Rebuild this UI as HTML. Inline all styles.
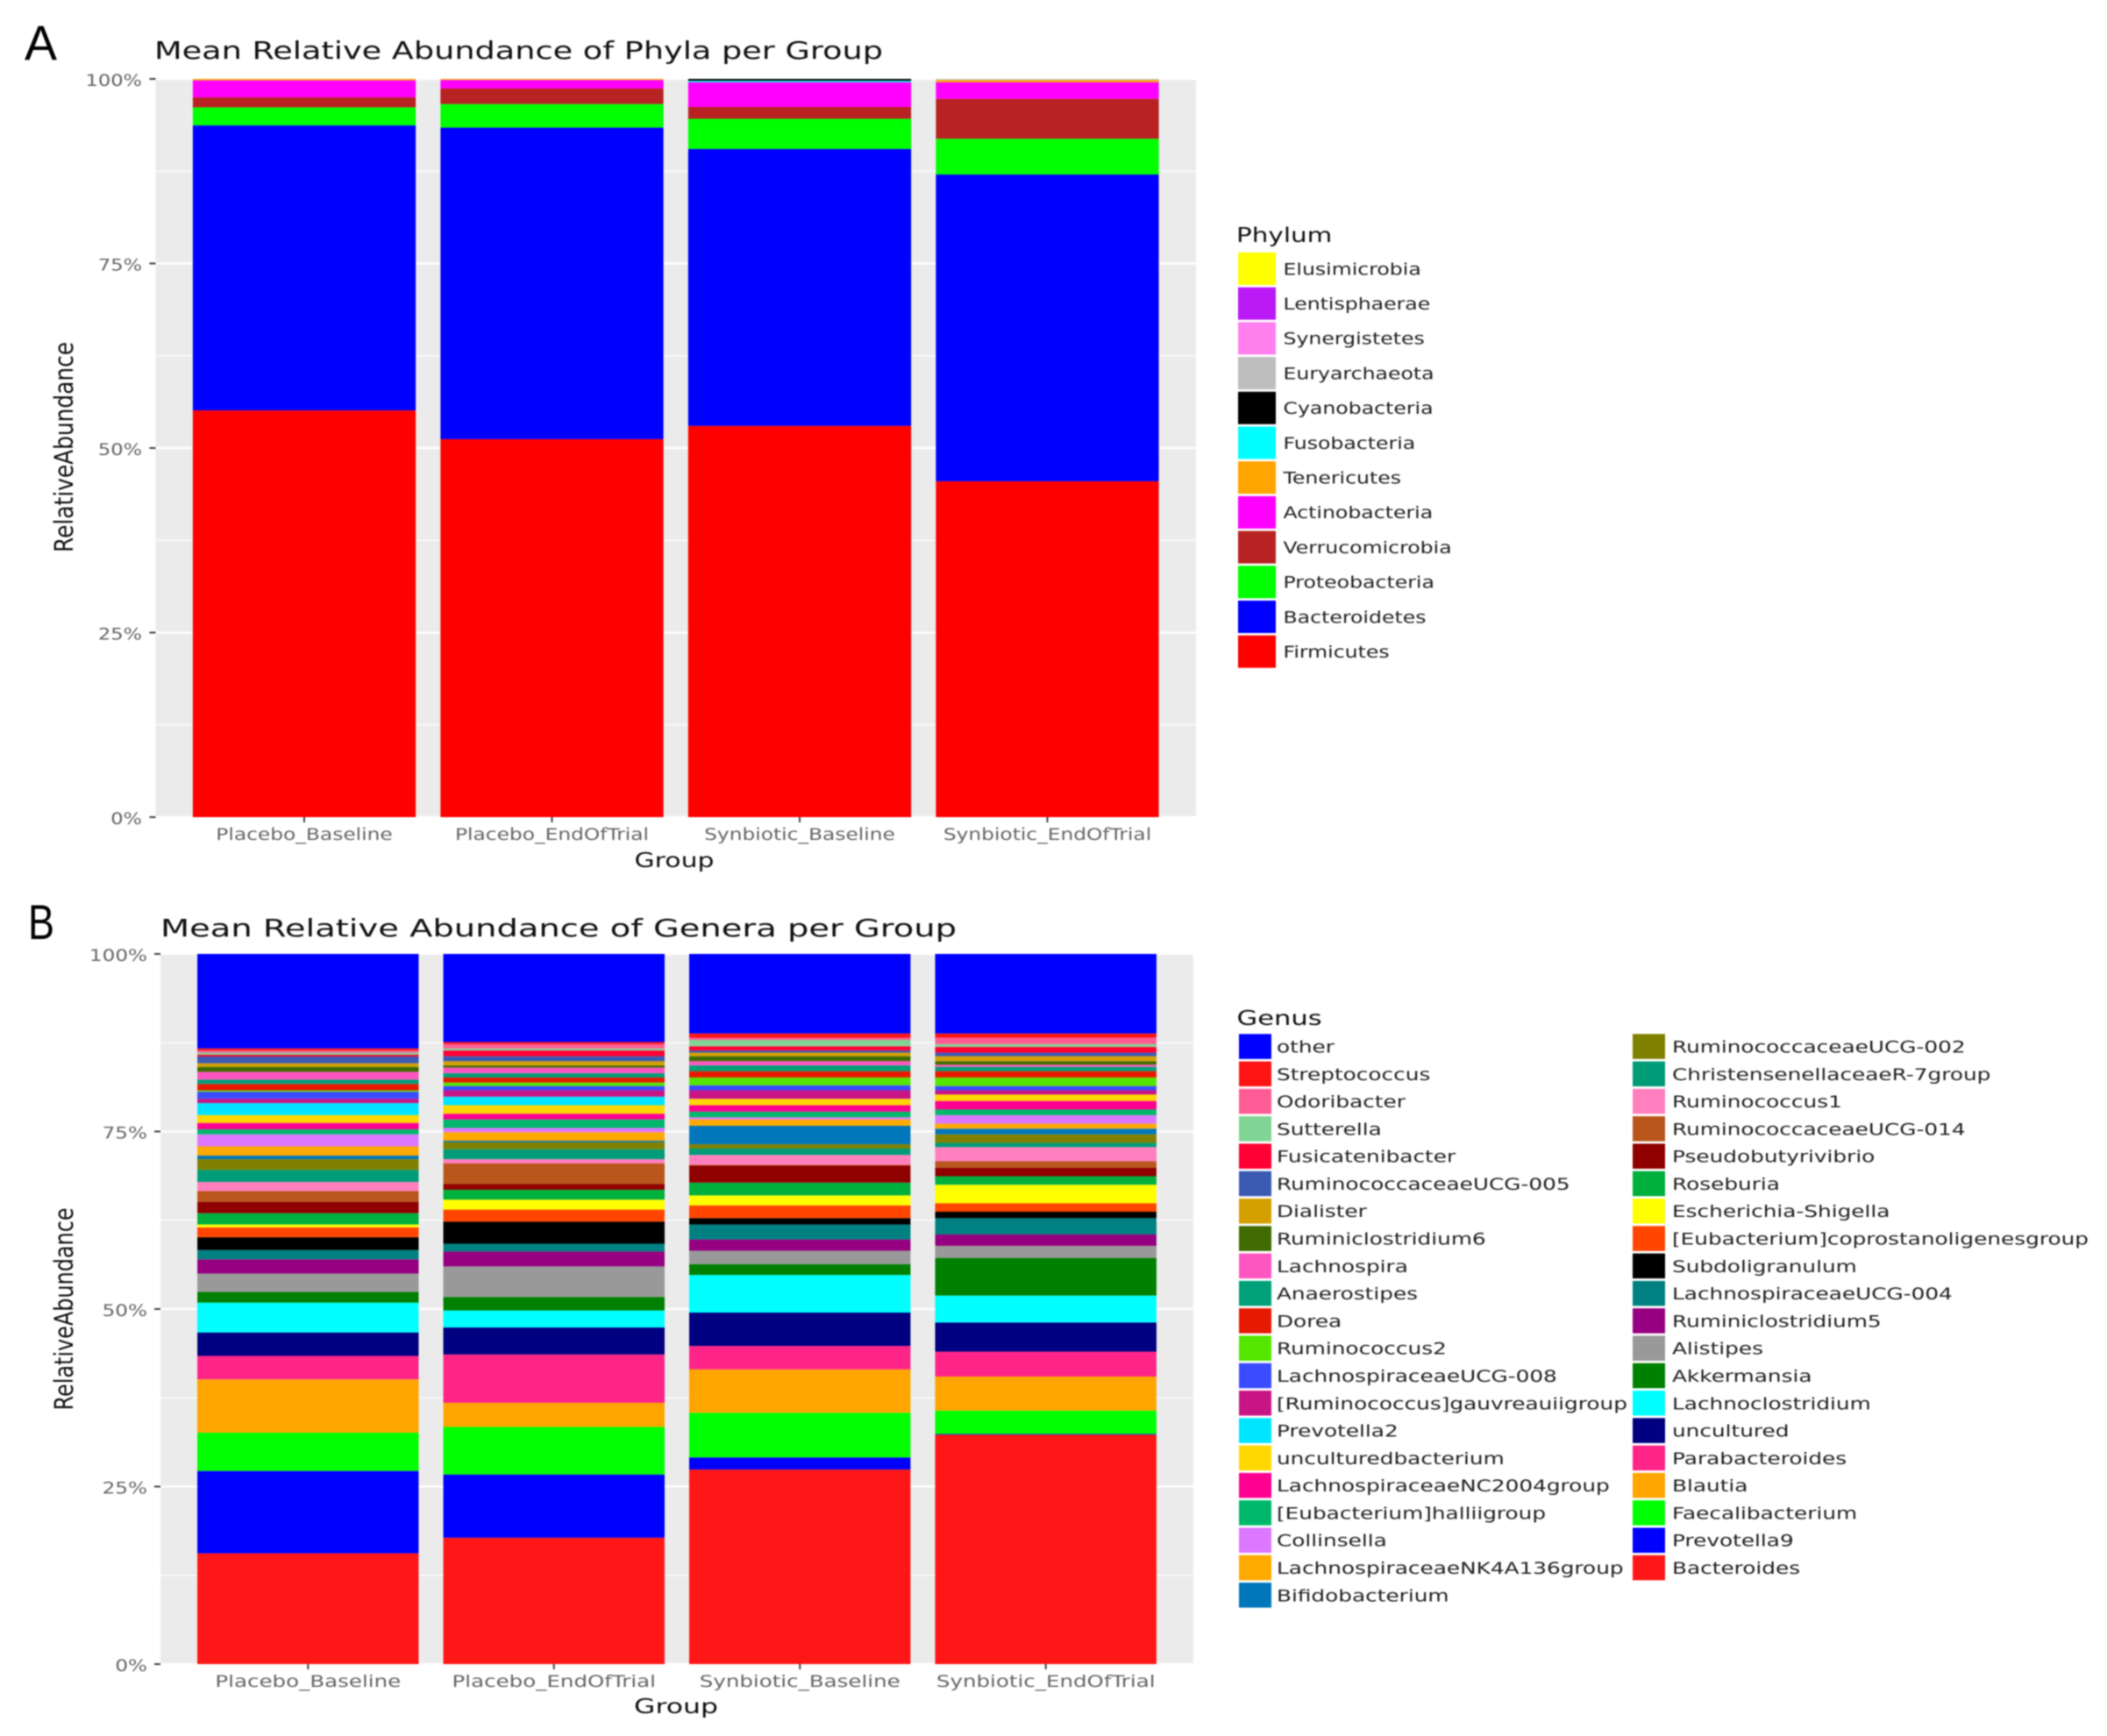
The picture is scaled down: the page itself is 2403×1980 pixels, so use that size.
<!DOCTYPE html>
<html lang="en">
<head>
<meta charset="utf-8">
<title>Mean Relative Abundance of Phyla and Genera per Group</title>
<style>
html,body{margin:0;padding:0;background:#fff;}
#figure{display:block;filter:blur(0.85px);font-family:"DejaVu Sans","Liberation Sans",sans-serif;}
</style>
</head>
<body>
<svg id="figure" xmlns="http://www.w3.org/2000/svg" width="2403" height="1980" viewBox="0 0 2403 1980">
<rect x="0" y="0" width="2403" height="1980" fill="#fff"/>
<g id="panel-a"></g>
<g id="panel-b"></g>
</svg>
<script>
// Shared chart data
const groups = ["Placebo_Baseline", "Placebo_EndOfTrial", "Synbiotic_Baseline", "Synbiotic_EndOfTrial"];
const tickValues = [0, 25, 50, 75, 100];
const minorTickValues = [12.5, 37.5, 62.5, 87.5];
const tickLabels = ["0%", "25%", "50%", "75%", "100%"];

// Phylum data, listed bottom of stack to top
const phyla = ["Firmicutes", "Bacteroidetes", "Proteobacteria", "Verrucomicrobia", "Actinobacteria", "Tenericutes", "Fusobacteria", "Cyanobacteria", "Euryarchaeota", "Synergistetes", "Lentisphaerae", "Elusimicrobia"];
const phylumColors = ["#ff0000", "#0000ff", "#00ff00", "#b82222", "#ff00ff", "#ffa500", "#00ffff", "#000000", "#bebebe", "#ff80ee", "#bb19f5", "#ffff00"];
const phylumPlaceboBaseline = [55.1, 38.6, 2.45, 1.35, 2.3, 0.2, 0, 0, 0, 0, 0, 0];
const phylumPlaceboEnd = [51.2, 42.2, 3.2, 2.1, 1.15, 0.15, 0, 0, 0, 0, 0, 0];
const phylumSynbioticBaseline = [53.0, 37.5, 4.1, 1.6, 3.35, 0, 0.2, 0.25, 0, 0, 0, 0];
const phylumSynbioticEnd = [45.5, 41.55, 4.85, 5.4, 2.25, 0.3, 0, 0, 0.15, 0, 0, 0];

// Genus data, listed bottom of stack to top
const genera = ["Bacteroides", "Prevotella9", "Faecalibacterium", "Blautia", "Parabacteroides", "uncultured", "Lachnoclostridium", "Akkermansia", "Alistipes", "Ruminiclostridium5", "LachnospiraceaeUCG-004", "Subdoligranulum", "[Eubacterium]coprostanoligenesgroup", "Escherichia-Shigella", "Roseburia", "Pseudobutyrivibrio", "RuminococcaceaeUCG-014", "Ruminococcus1", "ChristensenellaceaeR-7group", "RuminococcaceaeUCG-002", "Bifidobacterium", "LachnospiraceaeNK4A136group", "Collinsella", "[Eubacterium]halliigroup", "LachnospiraceaeNC2004group", "unculturedbacterium", "Prevotella2", "[Ruminococcus]gauvreauiigroup", "LachnospiraceaeUCG-008", "Ruminococcus2", "Dorea", "Anaerostipes", "Lachnospira", "Ruminiclostridium6", "Dialister", "RuminococcaceaeUCG-005", "Fusicatenibacter", "Sutterella", "Odoribacter", "Streptococcus", "other"];
const genusColors = ["#ff1717", "#0000ff", "#00ff00", "#ffa500", "#ff2488", "#000080", "#00ffff", "#008000", "#999999", "#960080", "#008080", "#000000", "#ff4500", "#ffff00", "#00b03c", "#8f0000", "#b9561c", "#ff7fbf", "#009b77", "#808000", "#0077bb", "#ffaa00", "#dd77ff", "#00b86b", "#ff0090", "#ffd700", "#00e5ff", "#c71585", "#3b4cff", "#55e600", "#e61a00", "#00a078", "#ff55c0", "#3f6b00", "#d4a000", "#3b5bb3", "#ff0033", "#80d494", "#ff5c95", "#ff1414", "#0000ff"];
const genusPlaceboBaseline = [15.6, 11.6, 5.4, 7.5, 3.3, 3.3, 4.2, 1.5, 2.6, 2.0, 1.3, 1.8, 1.4, 0.4, 1.6, 1.6, 1.5, 1.3, 1.7, 1.5, 0.5, 1.3, 1.7, 0.7, 0.9, 1.1, 1.7, 0.6, 1.0, 0.2, 0.9, 0.6, 1.1, 0.7, 0.5, 0.95, 0.25, 0.3, 0.3, 0.3, 13.3];
const genusPlaceboEnd = [17.8, 8.9, 6.7, 3.4, 6.8, 3.8, 2.4, 1.9, 4.3, 2.1, 1.1, 3.1, 1.7, 1.4, 1.4, 0.8, 2.9, 0.6, 1.4, 1.0, 0.2, 1.2, 0.6, 1.2, 0.8, 1.2, 1.2, 0.9, 0.6, 0.5, 0.7, 0.6, 0.8, 0.3, 0.6, 0.7, 0.8, 0.3, 0.6, 0.3, 12.4];
const genusSynbioticBaseline = [27.4, 1.7, 6.3, 6.1, 3.3, 4.7, 5.3, 1.5, 1.9, 1.6, 2.1, 0.9, 1.8, 1.4, 1.8, 2.4, 0.1, 1.4, 0.9, 0.6, 2.6, 0.9, 0.3, 0.8, 0.9, 0.9, 0, 1.2, 0.7, 1.1, 0.9, 0.8, 0.6, 0.7, 0.5, 0.3, 0.6, 0.9, 0.3, 0.6, 11.2];
const genusSynbioticEnd = [32.3, 0.1, 3.3, 4.8, 3.5, 4.1, 3.8, 5.3, 1.7, 1.6, 2.3, 0.9, 1.2, 2.6, 1.2, 1.2, 0.9, 2.0, 0.6, 1.2, 0.8, 0.7, 1.2, 0.8, 1.2, 0.9, 0, 0.6, 0.6, 1.2, 0.9, 0.6, 0.3, 0.5, 0.7, 0.5, 0.8, 0.4, 0.9, 0.6, 11.2];

const phylumSeries = [phylumPlaceboBaseline, phylumPlaceboEnd, phylumSynbioticBaseline, phylumSynbioticEnd];
const genusSeries = [genusPlaceboBaseline, genusPlaceboEnd, genusSynbioticBaseline, genusSynbioticEnd];

const SVGNS = "http://www.w3.org/2000/svg";
function make(tag, attrs, parent, text) {
  const node = document.createElementNS(SVGNS, tag);
  for (const k in attrs) node.setAttribute(k, attrs[k]);
  if (text !== undefined) node.textContent = text;
  parent.appendChild(node);
  return node;
}
function slug(s) {
  return s.toLowerCase().replace(/[^a-z0-9]+/g, "-").replace(/^-|-$/g, "");
}

function drawPanel(root, cfg, names, colors, series) {
  const W = cfg.right - cfg.left;
  const H = cfg.bottom - cfg.top;
  const step = W / (groups.length - 1 + 1.2);
  const barW = step * 0.9;
  const xScale = function (i) { return cfg.left + (0.6 + i) * step; };
  const yScale = function (v) { return cfg.bottom - v / 100 * H; };

  const letter = make("text", { x: cfg.letterX, y: cfg.letterY, "font-size": 56, fill: "#000", "font-family": '"Liberation Sans", sans-serif', textLength: cfg.letterW, lengthAdjust: "spacingAndGlyphs" }, root, cfg.letter);
  
  

  const title = make("text", { x: cfg.titleX, y: cfg.titleY, "font-size": 28, fill: "#111", textLength: cfg.titleW, lengthAdjust: "spacingAndGlyphs" }, root, cfg.title);
  
  

  const bg = make("rect", { x: cfg.left, y: cfg.top, width: W, height: H, fill: "#ebebeb" }, root);
  
  

  minorTickValues.forEach(function (v) {
    const line = make("line", { x1: cfg.left, x2: cfg.right, y1: yScale(v), y2: yScale(v), stroke: "#fff", "stroke-width": 1.2 }, root);
    
    
  });
  tickValues.forEach(function (v, i) {
    const line = make("line", { x1: cfg.left, x2: cfg.right, y1: yScale(v), y2: yScale(v), stroke: "#fff", "stroke-width": 2.2 }, root);
    
    

    const tick = make("line", { x1: cfg.left - 7, x2: cfg.left, y1: yScale(v), y2: yScale(v), stroke: "#444", "stroke-width": 2 }, root);
    
    

    const label = make("text", { transform: "translate(" + cfg.yLabelX + "," + (yScale(v) + 8) + ") scale(" + cfg.yTickStretch + ",1)", "font-size": 18.5, fill: "#666", "text-anchor": "end" }, root, tickLabels[i]);
    
    
  });

  groups.forEach(function (g, i) {
    let cumulative = 0;
    names.forEach(function (name, j) {
      const value = series[i][j];
      const y1 = yScale(cumulative);
      const y2 = yScale(cumulative + value);
      const seg = make("rect", { x: xScale(i) - barW / 2, y: y2, width: barW, height: Math.max(0, y1 - y2), fill: colors[j] }, root);
      
      
      cumulative += value;
    });

    const tick = make("line", { x1: xScale(i), x2: xScale(i), y1: cfg.bottom, y2: cfg.bottom + 6, stroke: "#444", "stroke-width": 2 }, root);
    
    

    const label = make("text", { transform: "translate(" + xScale(i) + "," + cfg.xLabelY + ") scale(" + cfg.xTickStretch + ",1)", "font-size": 18.5, fill: "#666", "text-anchor": "middle" }, root, g);
    
    
  });

  const xTitle = make("text", { transform: "translate(" + cfg.xTitleX + "," + cfg.xTitleY + ") scale(" + cfg.xTitleStretch + ",1)", "font-size": 23, fill: "#111", "text-anchor": "middle" }, root, "Group");
  
  

  const yTitle = make("text", { transform: "translate(83," + cfg.yTitleY + ") rotate(-90) scale(" + cfg.yTitleStretch + ",1.29)", "font-size": 23, fill: "#111", "text-anchor": "middle" }, root, "RelativeAbundance");
  
  

  const legend = make("g", {}, root);
  
  

  const legendTitle = make("text", { transform: "translate(" + cfg.legendTitleX + "," + cfg.legendTitleY + ") scale(" + cfg.legendTitleStretch + ",1)", "font-size": 23, fill: "#111" }, legend, cfg.legendTitle);
  
  

  const count = names.length;
  for (let k = 0; k < count; k++) {
    const j = count - 1 - k;
    const inFirstColumn = k < cfg.rowsFirstColumn;
    const row = inFirstColumn ? k : k - cfg.rowsFirstColumn;
    const keyX = inFirstColumn ? cfg.keyX[0] : cfg.keyX[1];
    const textX = inFirstColumn ? cfg.labelX[0] : cfg.labelX[1];
    const keyY = cfg.keyTop + row * cfg.keyStep;

    const swatch = make("rect", { x: keyX, y: keyY, width: cfg.keyW, height: cfg.keyH, fill: colors[j] }, legend);
    
    

    const label = make("text", { transform: "translate(" + textX + "," + (keyY + cfg.labelOffset) + ") scale(" + cfg.legendStretch + ",1)", "font-size": 18.5, fill: "#222" }, legend, names[j]);
    
    
  }
}

drawPanel(document.getElementById("panel-a"), {
  letter: "A", letterX: 28, letterY: 68, letterW: 37,
  title: "Mean Relative Abundance of Phyla per Group", titleX: 176, titleY: 67, titleW: 831,
  left: 177.5, right: 1364, top: 90, bottom: 932,
  yLabelX: 162, yTickStretch: 1.22, xLabelY: 958, xTickStretch: 1.26,
  xTitleX: 769, xTitleY: 989, xTitleStretch: 1.30,
  yTitleY: 510, yTitleStretch: 1.08,
  legendName: "phylum-legend", legendTitle: "Phylum", legendTitleX: 1410, legendTitleY: 276, legendTitleStretch: 1.28,
  rowsFirstColumn: 12, keyX: [1412, 1412], labelX: [1463.5, 1463.5], keyTop: 288, keyStep: 39.7, keyW: 43, keyH: 37, labelOffset: 25.3, legendStretch: 1.275
}, phyla, phylumColors, phylumSeries);

drawPanel(document.getElementById("panel-b"), {
  letter: "B", letterX: 32, letterY: 1071, letterW: 30,
  title: "Mean Relative Abundance of Genera per Group", titleX: 183, titleY: 1068, titleW: 908,
  left: 183, right: 1361, top: 1088, bottom: 1898,
  yLabelX: 168, yTickStretch: 1.25, xLabelY: 1924, xTickStretch: 1.325,
  xTitleX: 771, xTitleY: 1954, xTitleStretch: 1.37,
  yTitleY: 1493, yTitleStretch: 1.04,
  legendName: "genus-legend", legendTitle: "Genus", legendTitleX: 1410.5, legendTitleY: 1169, legendTitleStretch: 1.33,
  rowsFirstColumn: 21, keyX: [1413, 1862], labelX: [1456, 1907], keyTop: 1179.3, keyStep: 31.29, keyW: 37, keyH: 28.5, labelOffset: 21.2, legendStretch: 1.338
}, genera, genusColors, genusSeries);
</script>
</body>
</html>
